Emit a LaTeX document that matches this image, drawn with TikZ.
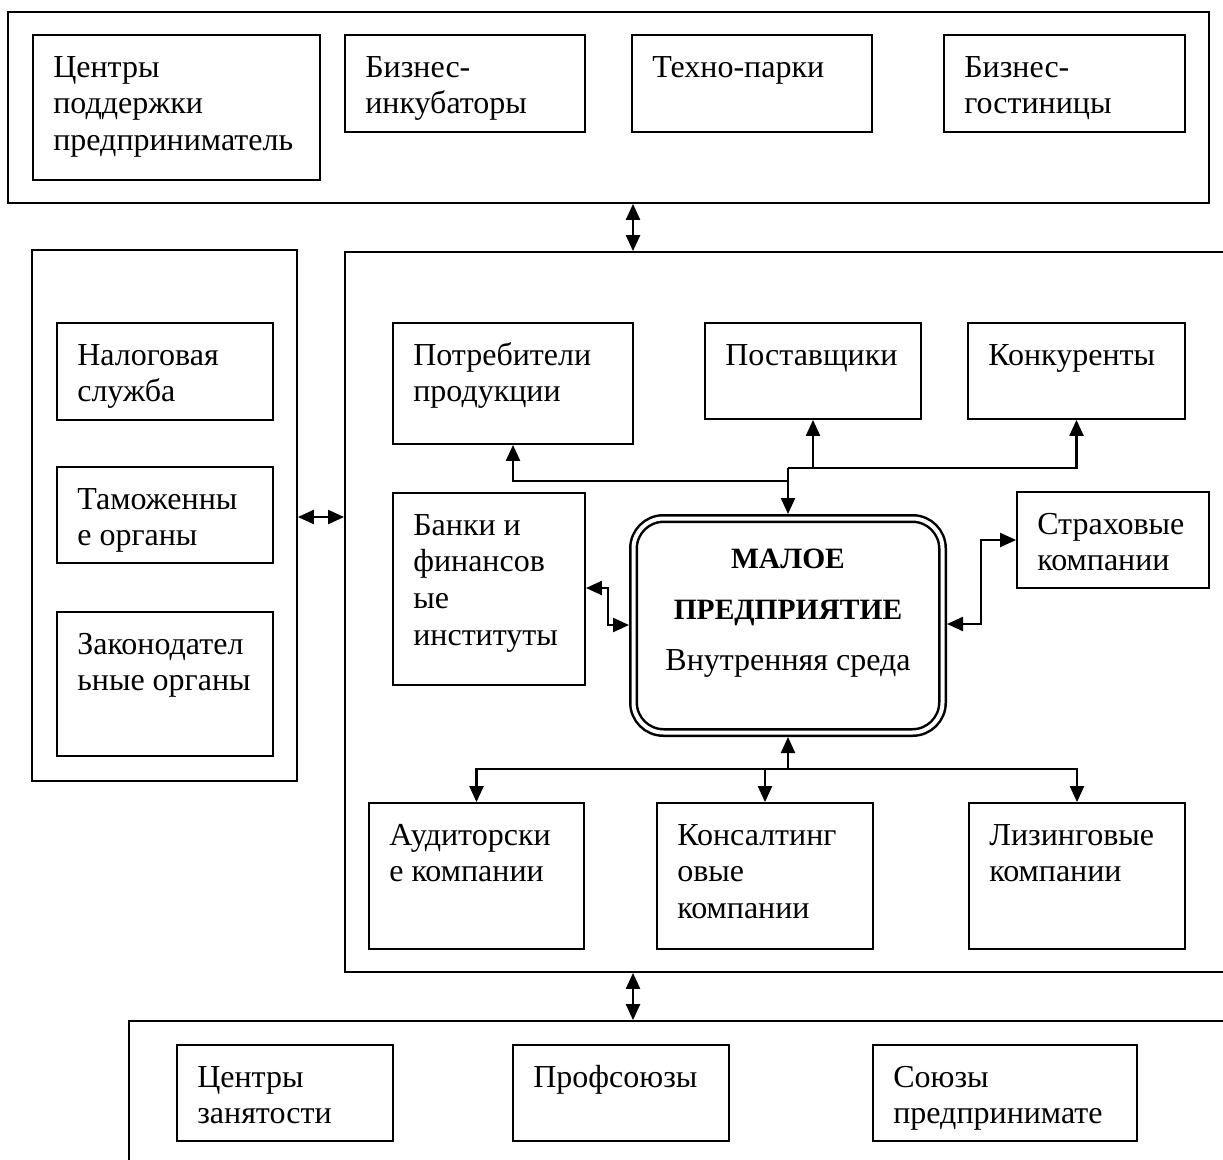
\documentclass[tikz,border=0pt]{standalone}
\usepackage{fontspec}
\setmainfont{Liberation Serif}
\usetikzlibrary{arrows.meta,fit,calc}
\tikzset{
  grpbox/.style={draw, line width=1.8pt, inner sep=0pt, fit={#1}},
  itembox/.style={draw, line width=1.8pt, inner sep=0pt, fit={#1}},
  txt/.style={anchor=north west, inner sep=0pt, align=left, font=\fontsize{32}{36.8}\selectfont},
  conn/.style={line width=2.2pt, -{Triangle[length=16pt,width=14pt]}},
  conn2/.style={line width=2.2pt, {Triangle[length=16pt,width=14pt]}-{Triangle[length=16pt,width=14pt]}},
}
\newcommand\itm[6]{%
  \node[itembox={(#2,#3)(#4,#5)}] (#1) {};
  \node[txt] (#1-t) at ([xshift=21pt,yshift=-17pt]#1.north west) {\strut #6};
}
\begin{document}
\begin{tikzpicture}[x=1pt,y=-1pt]
\useasboundingbox (0,0) rectangle (1223,1159);

% ---------- top group ----------
\node[grpbox={(8,12)(1209,203)}] (topgrp) {};
\itm{t1}{33}{35}{320}{180}{Центры\\поддержки\\предприниматель}
\itm{t2}{345}{35}{585}{132}{Бизнес-\\инкубаторы}
\itm{t3}{632}{35}{872}{132}{Техно-парки}
\itm{t4}{944}{35}{1185}{132}{Бизнес-\\гостиницы}

% ---------- left group ----------
\node[grpbox={(32,250)(297,781)}] (leftgrp) {};
\itm{l1}{57}{323}{273}{420}{Налоговая\\служба}
\itm{l2}{57}{467}{273}{563}{Таможенны\\е органы}
\itm{l3}{57}{612}{273}{756}{Законодател\\ьные органы}

% ---------- main group ----------
\node[grpbox={(345,252)(1260,972)}] (maingrp) {};
\itm{potr}{393}{323}{633}{444}{Потребители\\продукции}
\itm{post}{705}{323}{921}{419}{Поставщики}
\itm{konk}{968}{323}{1185}{419}{Конкуренты}
\itm{bank}{393}{493}{585}{685}{Банки и\\финансов\\ые\\институты}
\itm{strakh}{1017}{492}{1209}{588}{Страховые\\компании}
\itm{aud}{369}{803}{584}{949}{Аудиторски\\е компании}
\itm{kons}{657}{803}{873}{949}{Консалтинг\\овые\\компании}
\itm{lis}{969}{803}{1185}{949}{Лизинговые\\компании}

% central node
\node[draw, double, double distance=4pt, line width=2.5pt, rounded corners=30pt,
      inner sep=0pt, outer sep=4.5pt, fit={(633.5,518.5)(942.5,732.5)}] (central) {};
\node[anchor=north, inner sep=0pt, align=center, font=\fontsize{32}{51}\selectfont]
  (central-t) at (788,544) {\rule{0pt}{24pt}{\fontsize{29.5}{51}\selectfont\bfseries МАЛОЕ}\\{\fontsize{29.5}{51}\selectfont\bfseries ПРЕДПРИЯТИЕ}\\Внутренняя среда};

% ---------- bottom group ----------
\node[grpbox={(129,1021)(1260,1200)}] (botgrp) {};
\itm{b1}{177}{1045}{393}{1141}{Центры\\занятости}
\itm{b2}{513}{1045}{729}{1141}{Профсоюзы}
\itm{b3}{873}{1045}{1137}{1141}{Союзы\\предпринимате}

% ---------- helper coordinates ----------
\coordinate (cx) at (633,0);
\coordinate (cy) at (0,517);
\coordinate (j1) at (788,468);
\coordinate (j2) at (788,481);
\coordinate (bk1) at (608,588);
\coordinate (bk2) at (608,625);
\coordinate (st1) at (981,540);
\coordinate (st2) at (981,624);
\coordinate (j3) at (788,769);

% ---------- connectors between groups ----------
\draw[conn2] (topgrp.south -| cx) -- (maingrp.north -| cx);
\draw[conn2] (leftgrp.east |- cy) -- (maingrp.west |- cy);
\draw[conn2] (maingrp.south -| cx) -- (botgrp.north -| cx);

% ---------- connectors inside main group ----------
\draw[conn] (j1) -- (central.north);
\draw[conn] (j1) -| (konk.south);
\draw[conn] (post.south |- j1) -- (post.south);
\draw[conn] (j2) -| (potr.south);

\draw[conn2] (bank.east |- bk1) -- (bk1) -- (bk2) -- (central.west |- bk2);
\draw[conn2] (central.east |- st2) -- (st2) -- (st1) -- (strakh.west |- st1);

\draw[conn] (j3) -- (central.south);
\draw[conn] (j3) -| (aud.north);
\draw[conn] (j3) -| (lis.north);
\draw[conn] (kons.north |- j3) -- (kons.north);
\end{tikzpicture}
\end{document}
